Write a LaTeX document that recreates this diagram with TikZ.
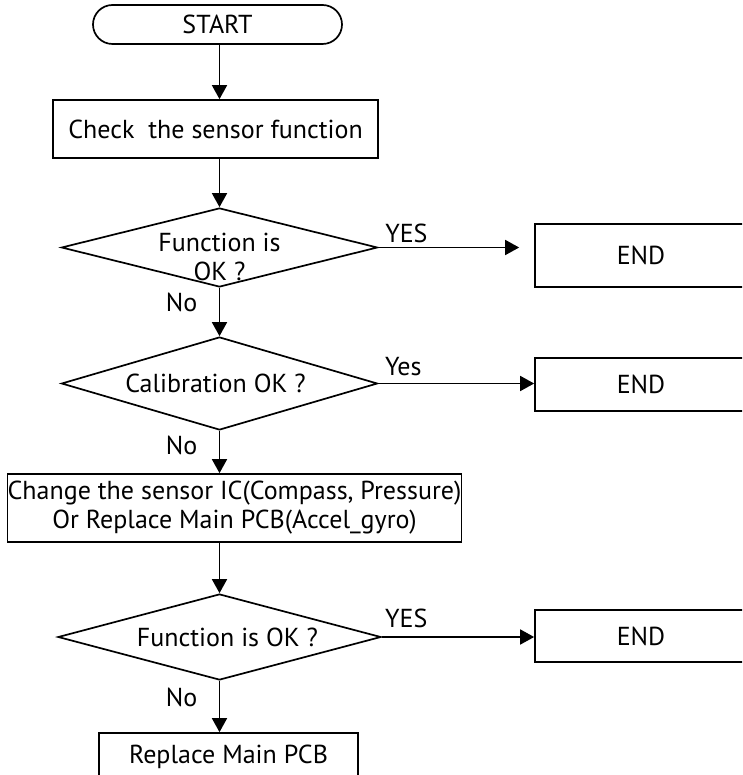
\documentclass[tikz,border=0pt]{standalone}
\usepackage{fontspec}
\setmainfont{PT Sans}
\usetikzlibrary{shapes.geometric, shapes.misc, arrows.meta}

\begin{document}
\begin{tikzpicture}[
    x=1pt, y=-1pt,
    >={Triangle[length=14pt, width=15pt]},
    line width=1.7pt,
    every node/.style={font=\fontsize{26}{29}\selectfont},
    terminal/.style={draw, rounded rectangle, minimum width=249pt, minimum height=39pt, inner sep=0pt},
    process/.style={draw, rectangle, inner sep=0pt},
    decision/.style={draw, diamond, inner sep=0pt},
    flow/.style={->}
]

% Page frame
\useasboundingbox (0,0) rectangle (742,775);
\clip (0,0) rectangle (742,775);

% Main column
\node[terminal] (start) at (217.5,24.5) {START};
\node[process, minimum width=325pt, minimum height=58pt] (check) at (215.5,129) {Check\ \ the sensor function};
\node[decision, minimum width=316pt, minimum height=79pt,
      label={[align=center, yshift=-9pt]center:{Function is\\OK ?}}] (okA) at (219.5,247.5) {};
\node[decision, minimum width=316pt, minimum height=93pt,
      label={[xshift=-4pt]center:{Calibration OK ?}}] (calib) at (219.5,383.5) {};
\node[process, minimum width=453pt, minimum height=68pt, align=center] (change) at (234.5,508)
    {Change the sensor IC(Compass, Pressure)\\Or Replace Main PCB(Accel\_gyro)};
\node[decision, minimum width=323pt, minimum height=86pt,
      label={[xshift=8pt]center:{Function is OK ?}}] (okB) at (219.5,637) {};
\node[process, minimum width=259pt, minimum height=48pt] (replace) at (228.5,757) {Replace Main PCB};

% End boxes on the right
\node[process, minimum width=212pt, minimum height=63pt] (endA) at (641,255.5) {END};
\node[process, minimum width=212pt, minimum height=53pt] (endB) at (641,384.5) {END};
\node[process, minimum width=212pt, minimum height=52pt] (endC) at (641,636) {END};

% Downward flow
\draw[flow] (start.south -| okA) -- (check.north -| okA);
\draw[flow] (check.south -| okA) -- (okA.north);
\draw[flow] (okA.south) -- node[pos=.3, left=18pt] {No} (calib.north);
\draw[flow] (calib.south) -- node[pos=.34, left=18pt] {No} (change.north -| calib);
\draw[flow] (change.south -| okB) -- (okB.north);
\draw[flow] (okB.south) -- node[pos=.32, left=18pt] {No} (replace.north -| okB);

% Branches to END
\draw[flow, shorten >=15pt] (okA.east) -- node[pos=.18, above=1pt] {YES} (endA.west |- okA.east);
\draw[flow] (calib.east) -- node[pos=.16, above=4pt] {Yes} (endB.west |- calib.east);
\draw[flow] (okB.east) -- node[pos=.16, above=5pt] {YES} (endC.west |- okB.east);

\end{tikzpicture}
\end{document}
